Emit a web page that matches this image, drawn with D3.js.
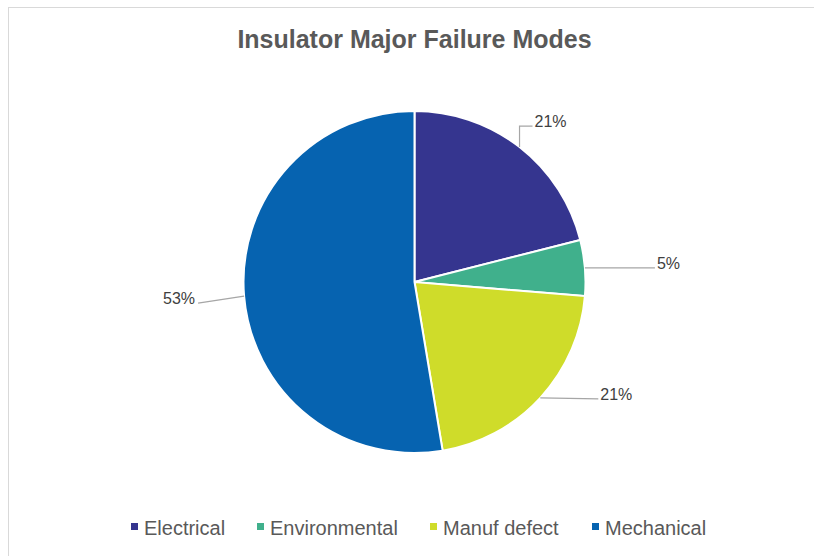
<!DOCTYPE html>
<html>
<head>
<meta charset="utf-8">
<script src="https://cdn.jsdelivr.net/npm/d3@7"></script>
<style>
  body { margin: 0; background: #fff; }
  svg { display: block; font-family: "Liberation Sans", Arial, sans-serif; }
</style>
</head>
<body>
<svg id="chart" width="814" height="556"></svg>
<script>
// data (counts, shown as percent of total)
const categories = ["Electrical", "Environmental", "Manuf defect", "Mechanical"]
const counts = [4, 1, 4, 10]
const colors = ["#35358f", "#40b08c", "#cfdc2a", "#0663b0"]

// where each data label sits relative to its slice edge (leader line end offset)
const labelLayout = [
    { dx: 0, dy: -21, run: 13, elbow: true },
    { dx: 70, dy: 0, run: 0, elbow: false },
    { dx: 58, dy: 1, run: 0, elbow: false },
    { dx: -46, dy: 7, run: 0, elbow: false }
]

const width = 814, height = 556
const cx = 414.5, cy = 282, radius = 171

var svg = d3.select("#chart")

// chart area border (only top and left edges visible)
svg.append("rect")
    .attr("x", 8.5).attr("y", 7.5)
    .attr("width", 820).attr("height", 560)
    .attr("fill", "none")
    .attr("stroke", "#d9d9d9")

svg.append("text")
    .attr("x", cx).attr("y", 48)
    .attr("text-anchor", "middle")
    .attr("font-size", 25)
    .attr("font-weight", "bold")
    .attr("fill", "#595959")
    .text("Insulator Major Failure Modes")

var total = d3.sum(counts)
var data = categories.map(function(c, i) { return { name: c, value: counts[i], i: i } })

var pie = d3.pie().sort(null).value(function(d) { return d.value })
var arc = d3.arc().innerRadius(0).outerRadius(radius)
var arcs = pie(data)

var g = svg.append("g").attr("transform", "translate(" + cx + "," + cy + ")")

g.selectAll("path.slice")
    .data(arcs)
    .enter().append("path")
    .attr("class", "slice")
    .attr("d", arc)
    .attr("fill", function(d) { return colors[d.data.i] })
    .attr("stroke", "#fff")
    .attr("stroke-width", 2)

var fmt = d3.format(".0%")

arcs.forEach(function(a) {
    var mid = (a.startAngle + a.endAngle) / 2
    var ax = radius * Math.sin(mid), ay = -radius * Math.cos(mid)
    var L = labelLayout[a.data.i]
    var ex = ax + L.dx, ey = ay + L.dy
    var pts = [[ax, ay]]
    if (L.elbow) {
        pts.push([ex, ey]); ex += L.run; pts.push([ex, ey])
    } else {
        pts.push([ex, ey])
    }
    g.append("path")
        .attr("d", d3.line()(pts))
        .attr("fill", "none")
        .attr("stroke", "#a6a6a6")
        .attr("stroke-width", 1.2)
    var left = L.dx < 0
    g.append("text")
        .attr("x", left ? ex - 3 : ex + 2)
        .attr("y", ey + 1)
        .attr("text-anchor", left ? "end" : "start")
        .attr("font-size", 16)
        .attr("fill", "#404040")
        .text(fmt(a.data.value / total))
})

// legend
var legendX = [131, 257, 430, 592]
var legend = svg.append("g")
categories.forEach(function(c, i) {
    legend.append("rect")
        .attr("x", legendX[i]).attr("y", 523)
        .attr("width", 7).attr("height", 7)
        .attr("fill", colors[i])
    legend.append("text")
        .attr("x", legendX[i] + 13).attr("y", 535)
        .attr("font-size", 20)
        .attr("fill", "#595959")
        .text(c)
})
</script>
</body>
</html>
